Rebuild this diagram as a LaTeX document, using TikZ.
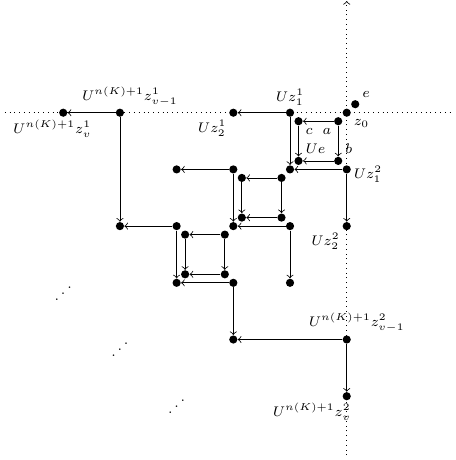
\documentclass[tikz,border=0pt]{standalone}
\usepackage{amsmath,amssymb}

\begin{document}
\begin{tikzpicture}[>=to, every node/.style={font=\scriptsize},
    dot/.style={circle, fill, inner sep=0pt, minimum size=4.1pt}]
  \useasboundingbox (-6.115,-6.125) rectangle (1.91,1.988);
  % axes
  \coordinate (xl) at (-6.03,0);
  \coordinate (xr) at (1.86,0);
  \coordinate (yb) at (0,-6.04);
  \coordinate (yt) at (0,1.97);
  \draw[dotted] (xl) -- (xr);
  \draw[dotted,->] (yb) -- (yt);
  % corners
  \foreach \k in {0,1,2,3} \node[dot] (p\k) at (-\k,-\k) {};
  \node[dot] (e) at (0.15,0.15) {};
  % the three blocks
  \foreach \k in {0,1,2} {
    \pgfmathtruncatemacro\n{\k+1}
    \node[dot] (a\k)  at ({-\k-0.15},{-\k-0.15}) {};
    \node[dot] (c\k)  at ({-\k-0.85},{-\k-0.15}) {};
    \node[dot] (b\k)  at ({-\k-0.15},{-\k-0.85}) {};
    \node[dot] (d\k)  at ({-\k-0.85},{-\k-0.85}) {};
    \node[dot] (h\k)  at ({-\k-1},{-\k}) {};
    \node[dot] (hl\k) at ({-\k-2},{-\k}) {};
    \node[dot] (v\k)  at ({-\k},{-\k-1}) {};
    \node[dot] (vd\k) at ({-\k},{-\k-2}) {};
    \draw[->] (a\k) -- (c\k);
    \draw[->] (a\k) -- (b\k);
    \draw[->] (c\k) -- (d\k);
    \draw[->] (b\k) -- (d\k);
    \draw[->] (h\k) -- (hl\k);
    \draw[->] (h\k) -- (p\n);
    \draw[->] (v\k) -- (p\n);
    \draw[->] (v\k) -- (vd\k);
  }
  % far points
  \node[dot] (f1) at (-4,0) {};
  \node[dot] (g1) at (-5,0) {};
  \node[dot] (f2) at (0,-4) {};
  \node[dot] (g2) at (0,-5) {};
  \draw[->] (f1) -- (g1);
  \draw[->] (f1) -- (hl2);
  \draw[->] (f2) -- (vd2);
  \draw[->] (f2) -- (g2);
  % labels
  \node[below right] (lz) at (p0) {$z_0$};
  \node[above right] (le) at (e) {$e$};
  \node[below left]  (la) at (a0) {$a$};
  \node[below right] (lc) at (c0) {$c$};
  \node[above right] (lb) at (b0) {$b$};
  \node[above right] (lue) at (d0) {$Ue$};
  \node[above]       (lh) at (h0) {$Uz^1_1$};
  \node[below left]  (lhl) at (hl0) {$Uz^1_2$};
  \node[right, yshift=-2.5pt] (lv) at (v0) {$Uz^2_1$};
  \node[below left]  (lvd) at (vd0) {$Uz^2_2$};
  \node[above, xshift=5pt]   (lf1) at (f1) {$U^{n(K)+1}z^1_{v-1}$};
  \node[below, xshift=-5.5pt] (lg1) at (g1) {$U^{n(K)+1}z^1_v$};
  \node[above, xshift=5pt]   (lf2) at (f2) {$U^{n(K)+1}z^2_{v-1}$};
  \node[below, xshift=-17.5pt] (lg2) at (g2) {$U^{n(K)+1}z^2_v$};
  % dots
  \node (m1) at (-5,-3.09) {\reflectbox{$\ddots$}};
  \node (m2) at (-4,-4.08) {\reflectbox{$\ddots$}};
  \node (m3) at (-3,-5.08) {\reflectbox{$\ddots$}};
\end{tikzpicture}
\end{document}
